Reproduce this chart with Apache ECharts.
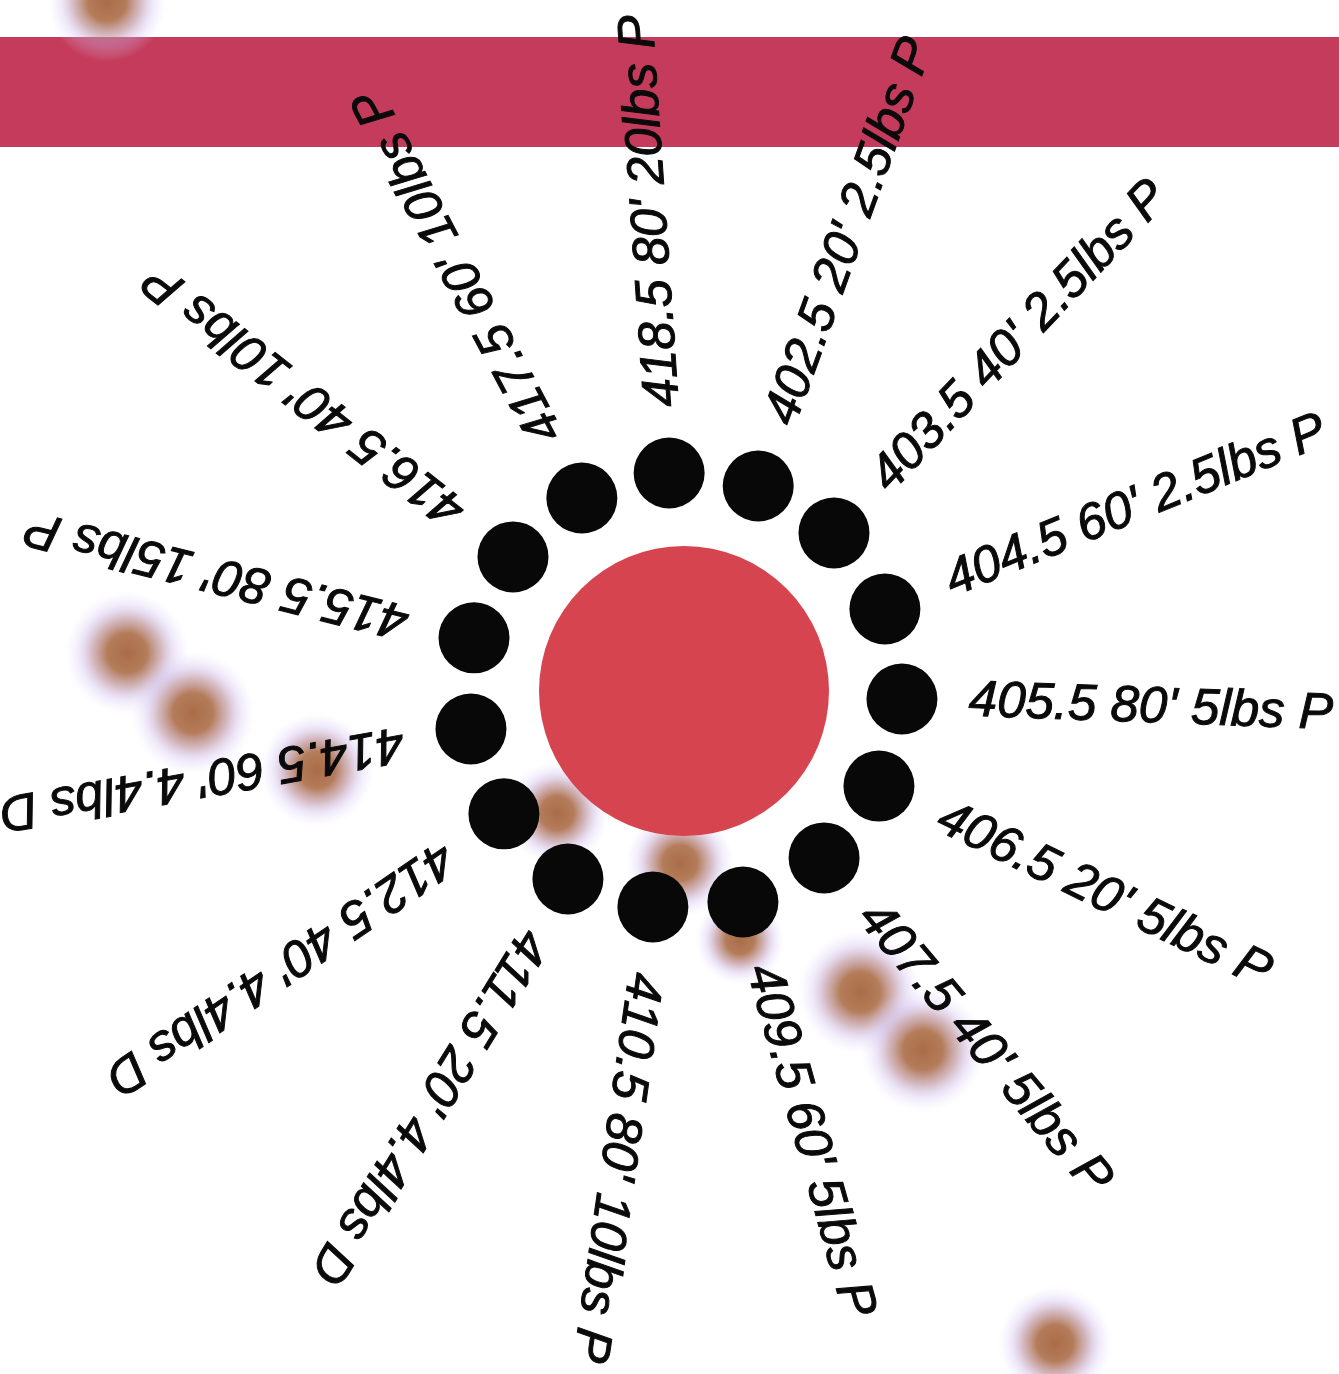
<!DOCTYPE html>
<html><head><meta charset="utf-8">
<script src="https://cdn.jsdelivr.net/npm/echarts@6/dist/echarts.min.js"></script>
<style>html,body{margin:0;padding:0;background:#fff}#c{width:1339px;height:1374px}</style>
</head><body><div id="c"></div>
<script>
// Station labels, clockwise from top
const labels = [
  "418.5 80' 20lbs P", "402.5 20' 2.5lbs P", "403.5 40' 2.5lbs P", "404.5 60' 2.5lbs P",
  "405.5 80' 5lbs P", "406.5 20' 5lbs P", "407.5 40' 5lbs P", "409.5 60' 5lbs P",
  "410.5 80' 10lbs P", "411.5 20' 4.4lbs D", "412.5 40' 4.4lbs D", "414.5 60' 4.4lbs D",
  "415.5 80' 15lbs P", "416.5 40' 10lbs P", "417.5 60' 10lbs P"
];
// angle of each dot (degrees clockwise from top)
const angles = [356.1, 19.9, 43.5, 67.8, 92.1, 116.0, 140.0, 164.4, 188.2, 211.7, 235.7, 259.9, 284.2, 308.1, 332.1];
// distance of each dot from centre
const radii = [218.5, 218.0, 217.9, 217.0, 218.1, 216.9, 217.9, 219.1, 218.2, 220.9, 218.0, 216.4, 216.6, 217.3, 218.3];
const labelRadius = 285;
// blurred spots
const spotsX = [107, 127, 193, 317, 557, 680, 740, 860, 923, 1055];
const spotsY = [2, 653, 713, 770, 813, 863, 940, 992, 1050, 1343];
const spotsSize = [120, 125, 125, 115, 105, 110, 90, 125, 125, 115];
// top band (y range)
const bandY = [37, 147];

const chart = echarts.init(document.getElementById('c'), null, {renderer: 'canvas'});
const norm = a => (((90 - a) % 360) + 540) % 360 - 180;
const hidden = {show: false};
chart.setOption({
  animation: false,
  backgroundColor: '#ffffff',
  grid: {left: 0, right: 0, top: 0, bottom: 0},
  xAxis: {type: 'value', min: 0, max: 1339, show: false},
  yAxis: {type: 'value', min: 0, max: 1374, inverse: true, show: false},
  polar: {center: [684, 691], radius: 300},
  radiusAxis: {type: 'value', min: 0, max: 300, axisLine: hidden, axisTick: hidden, axisLabel: hidden, splitLine: hidden},
  angleAxis: {type: 'value', min: 0, max: 360, startAngle: 90, clockwise: true,
    axisLine: hidden, axisTick: hidden, axisLabel: hidden, splitLine: hidden},
  series: [
    {
      type: 'scatter', coordinateSystem: 'cartesian2d', z: 1, silent: true, clip: false,
      data: spotsX.map((x, i) => ({value: [x, spotsY[i]], symbolSize: spotsSize[i]})),
      itemStyle: {
        opacity: 1,
        color: {type: 'radial', x: 0.5, y: 0.5, r: 0.5, colorStops: [
          {offset: 0, color: 'rgba(165,100,62,0.95)'},
          {offset: 0.32, color: 'rgba(172,110,72,0.9)'},
          {offset: 0.55, color: 'rgba(185,140,150,0.62)'},
          {offset: 0.75, color: 'rgba(200,180,235,0.33)'},
          {offset: 1, color: 'rgba(230,222,252,0)'}
        ]}
      },
      markArea: {
        silent: true,
        itemStyle: {color: '#c43b5b', opacity: 1},
        data: [[{xAxis: 0, yAxis: bandY[0]}, {xAxis: 1339, yAxis: bandY[1]}]]
      }
    },
    {
      type: 'scatter', coordinateSystem: 'polar', z: 2, silent: true,
      data: [[0, 0]], symbolSize: 290,
      itemStyle: {color: '#d6444f', opacity: 1}
    },
    {
      type: 'scatter', coordinateSystem: 'polar', z: 3, silent: true,
      data: angles.map((a, i) => [radii[i], a]), symbolSize: 71,
      itemStyle: {color: '#080808', opacity: 1}
    },
    {
      type: 'scatter', coordinateSystem: 'polar', z: 4, silent: true,
      symbolSize: 0, itemStyle: {color: 'rgba(0,0,0,0)', opacity: 1},
      data: angles.map((a, i) => ({
        value: [labelRadius, a],
        label: {rotate: norm(a)}
      })),
      label: {
        show: true, position: 'inside', align: 'left', verticalAlign: 'middle',
        formatter: p => labels[p.dataIndex],
        fontFamily: 'Liberation Sans, Arial, sans-serif', fontStyle: 'italic',
        fontSize: 51, color: '#0a0a0a', opacity: 1,
        textBorderColor: '#0a0a0a', textBorderWidth: 1
      }
    }
  ]
});
</script>
</body></html>
